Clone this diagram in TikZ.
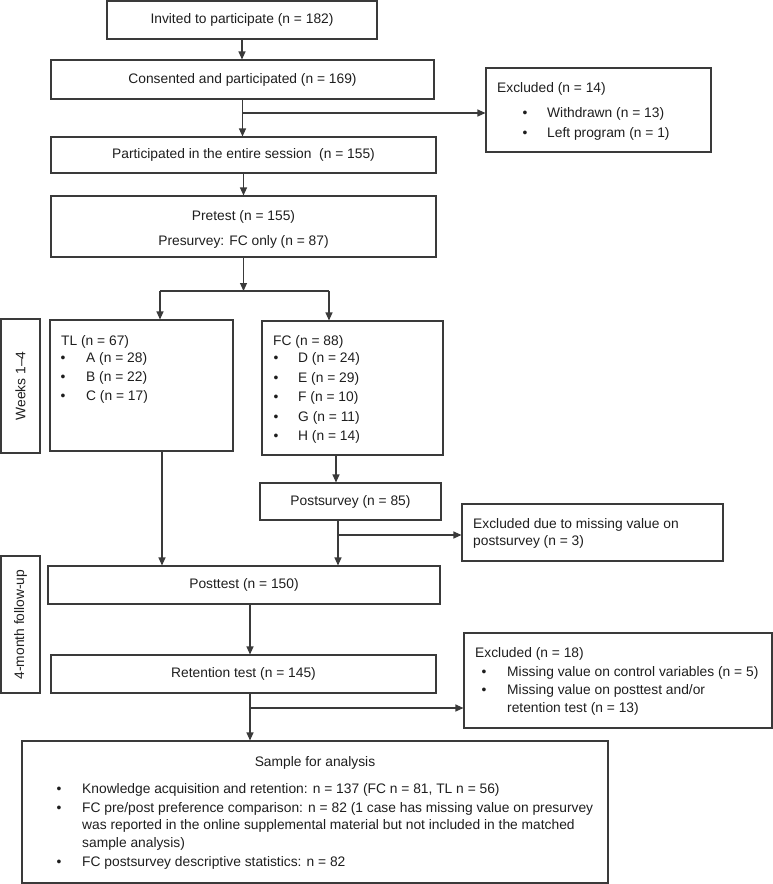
\documentclass[tikz,border=0pt]{standalone}
\usepackage{fontspec}
\setmainfont{Liberation Sans}
\usetikzlibrary{arrows.meta,calc}
\definecolor{lncol}{HTML}{3A3A3A}
\definecolor{txcol}{HTML}{1E1E1E}
\begin{document}
\begin{tikzpicture}[x=1pt,y=-1pt,
  font=\fontsize{13.8pt}{16.5pt}\selectfont,
  box/.style={draw=lncol, line width=1.1pt, inner sep=0pt, text=txcol},
  lbl/.style={inner sep=0pt, text=txcol, anchor=base west},
  bul/.style={inner sep=0pt, text=txcol, anchor=base},
  ctr/.style={inner sep=0pt, text=txcol, anchor=base},
  arr/.style={draw=lncol, line width=1.1pt, -{Triangle[length=8pt,width=7pt]}},
  plainline/.style={draw=lncol, line width=1.1pt}]
\useasboundingbox (0,0) rectangle (773,884);

% boxes
\node[box, minimum width=270pt, minimum height=38pt] (invited) at (242,20) {Invited to participate (n = 182)};
\node[box, minimum width=383pt, minimum height=39pt] (consent) at (242.5,79.5) {Consented and participated (n = 169)};
\node[box, minimum width=385pt, minimum height=36pt] (particip) at (243.5,155) {Participated in the entire session\ \ (n = 155)};
\node[box, minimum width=225pt, minimum height=84pt] (excl1) at (598.5,110) {};
\node[box, minimum width=385pt, minimum height=61pt] (pretest) at (243.5,226.5) {};
\node[box, minimum width=183pt, minimum height=131pt] (TL) at (141.5,385.5) {};
\node[box, minimum width=181pt, minimum height=134pt] (FC) at (352.5,388) {};
\node[box, minimum width=39pt, minimum height=134pt] (weeks) at (20.5,386) {};
\node[box, minimum width=181pt, minimum height=37pt] (postsurvey) at (350.5,501.5) {Postsurvey (n = 85)};
\node[box, minimum width=261pt, minimum height=57pt] (excl2) at (592.5,532.5) {};
\node[box, minimum width=392pt, minimum height=38pt] (posttest) at (244,585) {Posttest (n = 150)};
\node[box, minimum width=39pt, minimum height=137pt] (followup) at (20.5,624.5) {};
\node[box, minimum width=385pt, minimum height=38pt] (retention) at (243.5,674) {Retention test (n = 145)};
\node[box, minimum width=308pt, minimum height=95pt] (excl3) at (618,680.5) {};
\node[box, minimum width=586pt, minimum height=142pt] (sample) at (315,812) {};

% rotated side labels
\node[rotate=90, text=txcol, inner sep=0pt] (weekslbl) at (weeks.center) {Weeks 1–4};
\node[rotate=90, text=txcol, inner sep=0pt] (fuplbl) at (followup.center) {4-month follow-up};

% excluded 1
\node[lbl] (e1t) at (497,92) {Excluded (n = 14)};
\node[bul] (e1b1) at (525,117) {\textbullet};
\node[lbl] (e1a) at (547,117) {Withdrawn (n = 13)};
\node[bul] (e1b2) at (525,137) {\textbullet};
\node[lbl] (e1c) at (547,137) {Left program (n = 1)};

% pretest
\node[ctr] (pt1) at (243.5,220) {Pretest (n = 155)};
\node[ctr] (pt2) at (243.5,245) {Presurvey: FC only (n = 87)};

% TL
\node[lbl] (tlt) at (61,345) {TL (n = 67)};
\node[bul] (tlb1) at (63,362) {\textbullet};
\node[lbl] (tla) at (86,362) {A (n = 28)};
\node[bul] (tlb2) at (63,381) {\textbullet};
\node[lbl] (tlb) at (86,381) {B (n = 22)};
\node[bul] (tlb3) at (63,400) {\textbullet};
\node[lbl] (tlc) at (86,400) {C (n = 17)};

% FC
\node[lbl] (fct) at (273,345) {FC (n = 88)};
\node[bul] (fcb1) at (276,362) {\textbullet};
\node[lbl] (fcd) at (298,362) {D (n = 24)};
\node[bul] (fcb2) at (276,382) {\textbullet};
\node[lbl] (fce) at (298,382) {E (n = 29)};
\node[bul] (fcb3) at (276,401) {\textbullet};
\node[lbl] (fcf) at (298,401) {F (n = 10)};
\node[bul] (fcb4) at (276,421) {\textbullet};
\node[lbl] (fcg) at (298,421) {G (n = 11)};
\node[bul] (fcb5) at (276,440) {\textbullet};
\node[lbl] (fch) at (298,440) {H (n = 14)};

% excluded 2
\node[lbl] (e2a) at (473,528) {Excluded due to missing value on};
\node[lbl] (e2b) at (473,545) {postsurvey (n = 3)};

% excluded 3
\node[lbl] (e3t) at (475,657) {Excluded (n = 18)};
\node[bul] (e3b1) at (484,676) {\textbullet};
\node[lbl] (e3a) at (507,676) {Missing value on control variables (n = 5)};
\node[bul] (e3b2) at (484,694) {\textbullet};
\node[lbl] (e3b) at (507,694) {Missing value on posttest and/or};
\node[lbl] (e3c) at (507,712) {retention test (n = 13)};

% sample
\node[ctr] (st) at (315,766) {Sample for analysis};
\node[bul] (sb1) at (59,793) {\textbullet};
\node[lbl] (sa) at (82,793) {Knowledge acquisition and retention: n = 137 (FC n = 81, TL n = 56)};
\node[bul] (sb2) at (59,812) {\textbullet};
\node[lbl] (sb) at (82,812) {FC pre/post preference comparison: n = 82 (1 case has missing value on presurvey};
\node[lbl] (sc) at (82,829) {was reported in the online supplemental material but not included in the matched};
\node[lbl] (sd) at (82,847) {sample analysis)};
\node[bul] (sb3) at (59,866) {\textbullet};
\node[lbl] (se) at (82,866) {FC postsurvey descriptive statistics: n = 82};

% connector coordinates
\coordinate (b1) at (consent.south |- 0,113);
\coordinate (sp) at (pretest.south |- 0,291);
\coordinate (spL) at (160,291);
\coordinate (spR) at (329,291);
\coordinate (tlx) at (162,0);
\coordinate (fcx) at (336,0);
\coordinate (psx) at (338,0);
\coordinate (b2) at (338,535);
\coordinate (mx) at (250,0);
\coordinate (b3) at (250,708);

% connectors
\draw[arr] (invited.south) -- (invited.south |- consent.north);
\draw[arr] (consent.south) -- (consent.south |- particip.north);
\draw[arr] (b1) -- (b1 -| excl1.west);
\draw[arr] (particip.south) -- (particip.south |- pretest.north);
\draw[arr] (pretest.south) -- (sp);
\draw[plainline] (spL) -- (spR);
\draw[arr] (spL) -- (spL |- TL.north);
\draw[arr] (spR) -- (spR |- FC.north);
\draw[arr] (tlx |- TL.south) -- (tlx |- posttest.north);
\draw[arr] (fcx |- FC.south) -- (fcx |- postsurvey.north);
\draw[arr] (psx |- postsurvey.south) -- (psx |- posttest.north);
\draw[arr] (b2) -- (b2 -| excl2.west);
\draw[arr] (mx |- posttest.south) -- (mx |- retention.north);
\draw[arr] (mx |- retention.south) -- (mx |- sample.north);
\draw[arr] (b3) -- (b3 -| excl3.west);
\end{tikzpicture}
\end{document}
